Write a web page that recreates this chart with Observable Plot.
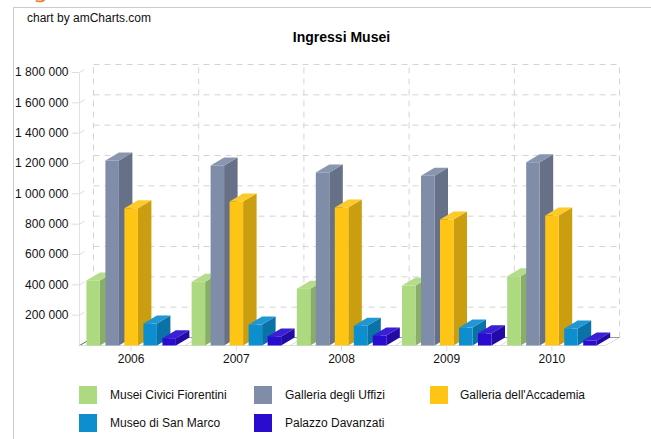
<!DOCTYPE html>
<html>
<head>
<meta charset="utf-8">
<script src="https://cdn.jsdelivr.net/npm/d3@7"></script>
<script src="https://cdn.jsdelivr.net/npm/@observablehq/plot@0.6"></script>
<style>
html,body{margin:0;padding:0;background:#fff;}
body{width:651px;height:439px;overflow:hidden;position:relative;font-family:"Liberation Sans",Arial,sans-serif;color:#111;}
#frame{position:absolute;left:13px;top:7px;width:650px;height:440px;border-left:1px solid #ccc;border-top:1px solid #ccc;}
#arc{position:absolute;left:36px;top:-8px;width:9px;height:9px;border:2px solid #f08030;border-top:none;border-left:none;border-radius:0 0 8px 2px;transform:rotate(10deg);}
#head{position:relative;height:50px;}
#credit{position:absolute;left:27px;top:11px;font-size:12px;line-height:14px;}
#title{position:absolute;left:0;width:683px;top:29px;text-align:center;font-size:14px;line-height:16px;font-weight:bold;color:#000;}
#chart{position:relative;height:330px;}
#chart svg{display:block;background:transparent;}
#legend{position:relative;height:59px;font-size:12px;}
.sw{position:absolute;width:18px;height:18px;}
.lb{position:absolute;line-height:14px;white-space:nowrap;color:#111;}
</style>
</head>
<body>
<div id="frame"></div>
<div id="arc"></div>
<div id="head">
  <div id="credit">chart by amCharts.com</div>
  <div id="title">Ingressi Musei</div>
</div>
<div id="chart"></div>
<div id="legend"></div>
<script>
const years = ["2006", "2007", "2008", "2009", "2010"];
const museums = ["Musei Civici Fiorentini", "Galleria degli Uffizi", "Galleria dell'Accademia", "Museo di San Marco", "Palazzo Davanzati"];
const civici = [428000, 420000, 375000, 395000, 457000];
const uffizi = [1220000, 1187000, 1140000, 1120000, 1209000];
const accademia = [905000, 950000, 910000, 830000, 857000];
const sanMarco = [145000, 138000, 130000, 118000, 112000];
const davanzati = [48000, 60000, 66000, 80000, 33000];
const colors = ["#ADD981", "#7F8DA9", "#FEC514", "#0D8ECF", "#2A0CD0"];
const yTicks = [200000, 400000, 600000, 800000, 1000000, 1200000, 1400000, 1600000, 1800000];

const series = [civici, uffizi, accademia, sanMarco, davanzati];
const width = 651, height = 330;
const mL = 79, mT = 14, mB = 35, plotW = 526, plotH = 281;
const pxX = 5 / plotW, pxY = 1800000 / 273;
const depthX = 14 * pxX, depthY = 8 * pxY;
const barW = 13.5 * pxX, barD = 13.5 * pxX, barDY = 8 * pxY;
const first = 6.9 * pxX, pitch = 19 * pxX;

const shade = (c, k) => { const o = d3.rgb(c); return d3.rgb(o.r * k, o.g * k, o.b * k).formatHex(); };
const lighten = (c, k) => d3.interpolateRgb(c, "#fff")(k);

const faces = [];
let id = 0;
years.forEach((yr, i) => {
  series.forEach((vals, s) => {
    const v = vals[i], xl = i + first + s * pitch, xr = xl + barW, c = colors[s];
    const poly = (pts, fill) => { id++; pts.forEach(([x, y]) => faces.push({x, y, z: id, fill})); };
    poly([[xr, 0], [xr + barD, barDY], [xr + barD, v + barDY], [xr, v]], shade(c, 0.8));
    poly([[xl, v], [xr, v], [xr + barD, v + barDY], [xl + barD, v + barDY]], lighten(c, 0.08));
    poly([[xl, 0], [xr, 0], [xr, v], [xl, v]], c);
  });
});

const gridColor = "#d4d4d4";
const boundaries = d3.range(0, years.length + 1);
const plot = Plot.plot({
  width, height,
  marginLeft: mL, marginTop: mT, marginBottom: mB, marginRight: width - mL - plotW - 14,
  x: {type: "linear", domain: [0, 5 + depthX], range: [mL, mL + plotW + 14]},
  y: {type: "linear", domain: [0, 1800000 + depthY], range: [height - mB, mT]},
  color: {type: "identity"},
  style: {fontFamily: '"Liberation Sans",Arial,sans-serif', fontSize: "12px", color: "#111", background: "transparent"},
  marks: [
    // back wall grid
    Plot.link(yTicks, {x1: depthX, x2: 5 + depthX, y1: d => d + depthY, y2: d => d + depthY, stroke: gridColor, strokeDasharray: "6,5"}),
    Plot.link(boundaries, {x1: d => d + depthX, x2: d => d + depthX, y1: depthY, y2: 1800000 + depthY, stroke: gridColor, strokeDasharray: "6,5"}),
    // left wall and floor
    Plot.link([0], {x1: 0, x2: 0, y1: 0, y2: 1800000, stroke: "#e2e2e2"}),
    Plot.link(yTicks, {x1: 0, x2: 5 * pxX, y1: d => d, y2: d => d + 3 * pxY, stroke: "#ddd"}),
    Plot.link(boundaries.slice(1), {x1: d => d, x2: d => d + depthX, y1: 0, y2: depthY, stroke: "#ddd"}),
    Plot.link([0], {x1: depthX, x2: 5 + depthX, y1: depthY, y2: depthY, stroke: "#999"}),
    Plot.link([0], {x1: 0, x2: depthX, y1: 0, y2: depthY, stroke: "#666"}),
    Plot.link([0], {x1: 0, x2: 5, y1: 0, y2: 0, stroke: "#ddd"}),
    // bars
    Plot.line(faces, {x: "x", y: "y", z: "z", fill: d => d.fill, stroke: "none", curve: "linear-closed"}),
    // axes
    Plot.axisY({ticks: yTicks, anchor: "left", tickSize: 7, tickPadding: 4, label: null, stroke: "#ddd", fill: "#111", fontSize: 12,
      tickFormat: d => d3.format(",")(d).replace(/,/g, " ")}),
    Plot.axisX({ticks: years.map((_, i) => i + 0.5), anchor: "bottom", tickSize: 6, tickPadding: 3, label: null, stroke: "#ddd", fill: "#111", fontSize: 12, dx: -1,
      tickFormat: d => years[Math.floor(d)]})
  ]
});
document.getElementById("chart").appendChild(plot);

const swX = [79, 254, 430], lbX = [110, 285, 460], rowY = [5.5, 34];
const lg = document.getElementById("legend");
museums.forEach((m, i) => {
  const col = i % 3, row = Math.floor(i / 3);
  const s = document.createElement("div");
  s.className = "sw";
  s.style.cssText = `left:${swX[col]}px;top:${rowY[row]}px;background:${colors[i]}`;
  lg.appendChild(s);
  const t = document.createElement("div");
  t.className = "lb";
  t.style.cssText = `left:${lbX[col]}px;top:${rowY[row] + 2}px`;
  t.textContent = m;
  lg.appendChild(t);
});
</script>
</body>
</html>
